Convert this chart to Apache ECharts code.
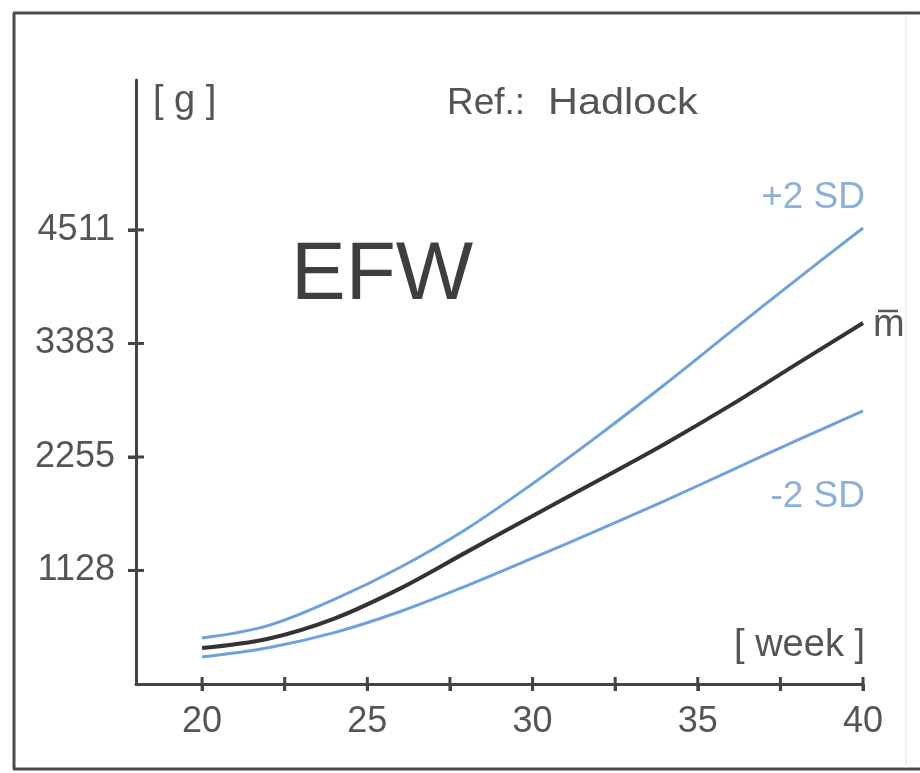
<!DOCTYPE html>
<html>
<head>
<meta charset="utf-8">
<script src="https://cdn.jsdelivr.net/npm/echarts@6/dist/echarts.min.js"></script>
<style>
html,body{margin:0;padding:0;background:#fff;}
#chart{width:920px;height:773px;}
</style>
</head>
<body>
<div id="chart"></div>
<script>
// ---- data ----
const weeks = [20, 22, 24, 26, 28, 30, 32, 34, 36, 38, 40];
const meanEFW = [358, 450, 650, 950, 1310, 1670, 2025, 2385, 2770, 3180, 3586];
const plus2SD = [457, 580, 840, 1160, 1540, 1990, 2470, 2975, 3500, 4020, 4530];
const minus2SD = [268, 360, 510, 720, 975, 1250, 1530, 1820, 2120, 2420, 2712];
const xTickValues = [20, 22.5, 25, 27.5, 30, 32.5, 35, 37.5, 40];
const xTickLabels = [20, 25, 30, 35, 40];
const yTickLabels = [1128, 2255, 3383, 4511];

const pairs = (ys) => weeks.map((w, i) => [w, ys[i]]);
const FONT = '"Liberation Sans", Arial, Helvetica, sans-serif';
const TXT = '#555555';
const AXIS = '#444444';
const BLUE = '#6ea2dc';
const BLUE_TXT = '#8cb0dc';
const X_MIN = 18, X_MAX = 40, Y_MIN = 0, Y_MAX = 6000;

const staticGraphics = [
  {type: 'line', shape: {x1: 14, y1: 13, x2: 14, y2: 769}, style: {stroke: '#4a4a4a', lineWidth: 3}},
  {type: 'line', shape: {x1: 13, y1: 13, x2: 920, y2: 13}, style: {stroke: '#4a4a4a', lineWidth: 3}},
  {type: 'line', shape: {x1: 13, y1: 769, x2: 920, y2: 769}, style: {stroke: '#4a4a4a', lineWidth: 3}},
  {type: 'line', shape: {x1: 906, y1: 14, x2: 906, y2: 768}, style: {stroke: '#e4e4e4', lineWidth: 1}},
  {type: 'text', left: 153, top: 83, style: {text: '[ g ]', font: '38px ' + FONT, fill: TXT}},
  {type: 'text', left: 447, top: 85, style: {text: 'Ref.:', font: '37px ' + FONT, fill: TXT}},
  {type: 'text', left: 548, top: 85, scaleX: 1.12, style: {text: 'Hadlock', font: '37px ' + FONT, fill: TXT}},
  {type: 'text', left: 291, top: 235, style: {text: 'EFW', font: '82px ' + FONT, fill: '#3e3e3e'}},
  {type: 'text', right: 55, top: 179, style: {text: '+2 SD', font: '37px ' + FONT, fill: BLUE_TXT}},
  {type: 'text', left: 873, top: 307, style: {text: 'm', font: '38px ' + FONT, fill: TXT}},
  {type: 'line', shape: {x1: 878, y1: 311, x2: 898, y2: 311}, style: {stroke: TXT, lineWidth: 2.5}},
  {type: 'text', right: 55, top: 478, style: {text: '-2 SD', font: '37px ' + FONT, fill: BLUE_TXT}},
  {type: 'text', right: 55, top: 627, style: {text: '[ week ]', font: '38px ' + FONT, fill: TXT}}
];

const chart = echarts.init(document.getElementById('chart'), null, {renderer: 'canvas'});
chart.setOption({
  backgroundColor: '#ffffff',
  animation: false,
  grid: {left: 136, right: 57, top: 80, bottom: 89, containLabel: false},
  xAxis: {
    type: 'value', min: X_MIN, max: X_MAX, splitLine: {show: false},
    axisLine: {show: true, lineStyle: {color: AXIS, width: 3}},
    axisTick: {show: true, customValues: xTickValues, length: 7, inside: false, lineStyle: {color: AXIS, width: 3}},
    axisLabel: {customValues: xTickLabels, margin: 20, color: TXT, fontSize: 36, fontFamily: FONT,
                formatter: v => String(v)}
  },
  yAxis: {
    type: 'value', min: Y_MIN, max: Y_MAX, splitLine: {show: false},
    axisLine: {show: true, lineStyle: {color: AXIS, width: 3}},
    axisTick: {show: true, customValues: yTickLabels, length: 8, inside: false, lineStyle: {color: AXIS, width: 3}},
    axisLabel: {customValues: yTickLabels, margin: 21, color: TXT, fontSize: 36, fontFamily: FONT,
                formatter: v => String(v)}
  },
  series: [
    {type: 'line', data: pairs(plus2SD), smooth: 0.35, showSymbol: false,
     lineStyle: {color: BLUE, width: 3}, z: 3},
    {type: 'line', data: pairs(minus2SD), smooth: 0.35, showSymbol: false,
     lineStyle: {color: BLUE, width: 3}, z: 3},
    {type: 'line', data: pairs(meanEFW), smooth: 0.35, showSymbol: false,
     lineStyle: {color: '#333333', width: 4}, z: 4}
  ],
  graphic: staticGraphics
});

// inner halves of the cross-shaped ticks, positioned through the axis scales
const tickGraphics = [];
xTickValues.forEach(v => {
  const p = chart.convertToPixel({gridIndex: 0}, [v, Y_MIN]);
  tickGraphics.push({type: 'line', z: 10,
    shape: {x1: p[0], y1: p[1] - 7, x2: p[0], y2: p[1] + 7},
    style: {stroke: AXIS, lineWidth: 3}});
});
yTickLabels.forEach(v => {
  const p = chart.convertToPixel({gridIndex: 0}, [X_MIN, v]);
  tickGraphics.push({type: 'line', z: 10,
    shape: {x1: p[0] - 8, y1: p[1], x2: p[0] + 8, y2: p[1]},
    style: {stroke: AXIS, lineWidth: 3}});
});
chart.setOption({graphic: staticGraphics.concat(tickGraphics)});
</script>
</body>
</html>
